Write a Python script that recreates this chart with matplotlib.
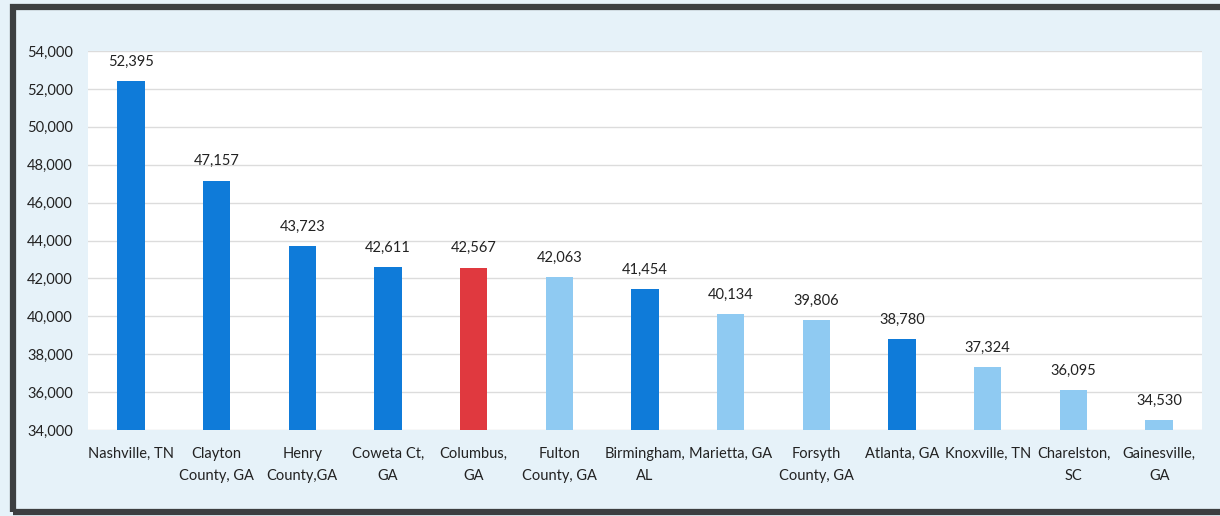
import matplotlib.pyplot as plt
from matplotlib.patches import Rectangle
from matplotlib.ticker import FuncFormatter

# Data
places = ["Nashville, TN", "Clayton\nCounty, GA", "Henry\nCounty,GA", "Coweta Ct,\nGA",
          "Columbus,\nGA", "Fulton\nCounty, GA", "Birmingham,\nAL", "Marietta, GA",
          "Forsyth\nCounty, GA", "Atlanta, GA", "Knoxville, TN", "Charelston,\nSC",
          "Gainesville,\nGA"]
values = [52395, 47157, 43723, 42611, 42567, 42063, 41454, 40134, 39806, 38780, 37324, 36095, 34530]
shade = ["dark", "dark", "dark", "dark", "red", "light", "dark", "light", "light", "dark",
         "light", "light", "light"]

palette = {"dark": "#0f7bd9", "light": "#8fcaf2", "red": "#e0393f"}
plt.rcParams['font.family'] = ['Lato', 'DejaVu Sans']

fig = plt.figure(figsize=(12.2, 5.16), dpi=100)
fig.patch.set_facecolor("#e6f2f9")

# dark frame around the chart
fig.patches.append(Rectangle((0.0105, 0.0085), 1.2, 0.977, transform=fig.transFigure,
                             fill=False, edgecolor="#3c3f41", linewidth=4.5))

ax = fig.add_axes([88 / 1220, 1 - 430 / 516, (1202 - 88) / 1220, (430 - 51) / 516])
ax.set_facecolor("white")

x = range(len(places))
ax.bar(x, [v - 34000 for v in values], bottom=34000, width=0.32,
       color=[palette[s] for s in shade], zorder=3)
for i, v in enumerate(values):
    ax.text(i, v + 650, f"{v:,}", ha="center", va="bottom", fontsize=10.5, color="#222222")

ax.set_ylim(34000, 54000)
ax.set_xlim(-0.5, len(places) - 0.5)
ax.set_yticks(range(34000, 54001, 2000))
ax.yaxis.set_major_formatter(FuncFormatter(lambda v, p: f"{int(v):,}"))
ax.grid(axis="y", color="#dcdcdc", linewidth=1, zorder=0)
ax.set_xticks(list(x))
ax.set_xticklabels(places, fontsize=10.5, color="#222222", linespacing=1.8)
ax.tick_params(axis="y", labelsize=10.5, labelcolor="#222222", length=0, pad=11)
ax.tick_params(axis="x", length=0, pad=12)
for s in ax.spines.values():
    s.set_visible(False)

fig.savefig("out.png", dpi=100, facecolor=fig.get_facecolor())
